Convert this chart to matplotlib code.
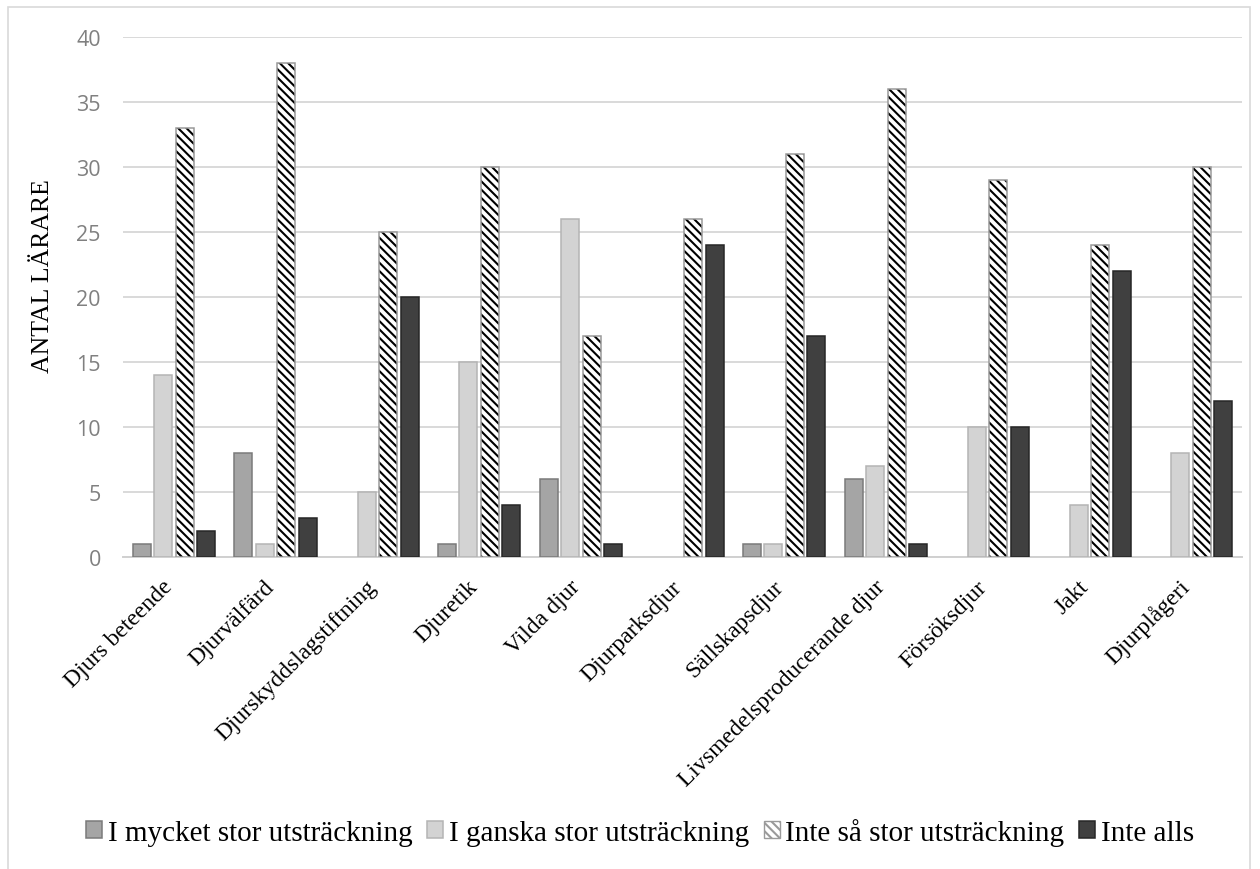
import numpy as np
import matplotlib
matplotlib.use("Agg")
import matplotlib.pyplot as plt
from matplotlib.patches import Rectangle
from matplotlib.transforms import ScaledTranslation

# categories (x axis) and the four answer series
kategorier = ["Djurs beteende", "Djurvälfärd", "Djurskyddslagstiftning", "Djuretik",
              "Vilda djur", "Djurparksdjur", "Sällskapsdjur",
              "Livsmedelsproducerande djur", "Försöksdjur", "Jakt", "Djurplågeri"]
serier = ["I mycket stor utsträckning", "I ganska stor utsträckning",
          "Inte så stor utsträckning", "Inte alls"]
mycket_stor = [1, 8, 0, 1, 6, 0, 1, 6, 0, 0, 0]
ganska_stor = [14, 1, 5, 15, 26, 0, 1, 7, 10, 4, 8]
inte_sa_stor = [33, 38, 25, 30, 17, 26, 31, 36, 29, 24, 30]
inte_alls = [2, 3, 20, 4, 1, 24, 17, 1, 10, 22, 12]
yticks = [0, 5, 10, 15, 20, 25, 30, 35, 40]

plt.rcParams['hatch.linewidth'] = 1.5

fig = plt.figure(figsize=(12.6, 8.7), dpi=100)
ax = fig.add_axes([123/1260, 1 - 558/870, 1119/1260, 520/870])

# light frame around the whole chart
fig.patches.append(Rectangle((8/1260, -0.02), 1242/1260, 1 - 8/870 + 0.02,
                             transform=fig.transFigure, fill=False,
                             edgecolor='#d9d9d9', linewidth=1.2, zorder=0))

x = np.arange(len(kategorier))
w = 0.177
step = 0.211
fyll = ['#a5a5a5', '#d3d3d3', 'white', '#404040']
kant = ['#7a7a7a', '#b4b4b4', '#9a9a9a', '#262626']
monster = [None, None, '\\\\\\\\', None]
data = [mycket_stor, ganska_stor, inte_sa_stor, inte_alls]

for i, vals in enumerate(data):
    v = np.array(vals, dtype=float)
    v[v == 0] = np.nan   # zero answers are not drawn at all
    pos = x + (i - 1.5) * step
    if monster[i]:
        # black hatch first, grey outline on top
        ax.bar(pos, v, width=w, color=fyll[i], edgecolor='black', hatch=monster[i],
               linewidth=0, zorder=3, label=serier[i])
        ax.bar(pos, v, width=w, fill=False, edgecolor=kant[i], linewidth=1.1, zorder=4)
    else:
        ax.bar(pos, v, width=w, color=fyll[i], edgecolor=kant[i], linewidth=1.1,
               zorder=3, label=serier[i])

ax.set_xlim(-0.5, len(kategorier) - 0.5)
ax.set_ylim(0, 40)
ax.set_yticks(yticks)
ax.yaxis.grid(True, color='#d9d9d9', linewidth=1.4, zorder=0)
for s in ['left', 'right', 'top']:
    ax.spines[s].set_visible(False)
ax.spines['bottom'].set_color('#d0d0d0')
ax.spines['bottom'].set_linewidth(1.4)
ax.tick_params(axis='y', length=0, pad=16, labelsize=15.5, labelcolor='#808080')
for lab in ax.get_yticklabels():
    lab.set_family('Open Sans')

ax.set_xticks(x)
ax.set_xticklabels(kategorier, rotation=45, ha='right', va='center',
                   rotation_mode='anchor', family='Liberation Serif', fontsize=17)
ax.tick_params(axis='x', length=0, pad=19)
off = ScaledTranslation(-3/72, 0, fig.dpi_scale_trans)
for lab in ax.get_xticklabels():
    lab.set_transform(lab.get_transform() + off)

fig.text(43/1260, 1 - 276/870, "ANTAL LÄRARE", rotation=90, ha='center', va='center',
         family='Liberation Serif', fontsize=18.5)

leg = fig.legend(loc='center', bbox_to_anchor=(640/1260, 1 - 833/870), ncol=4,
                 frameon=False, prop={'family': 'Liberation Serif', 'size': 21},
                 handlelength=0.55, handleheight=0.55, handletextpad=0.2,
                 columnspacing=0.5, borderaxespad=0)
# outline the hatched legend key like the bars
leg.legend_handles[2].set_edgecolor('#9a9a9a')
leg.legend_handles[2].set_linewidth(1.0)

fig.savefig("out.png", dpi=100)
